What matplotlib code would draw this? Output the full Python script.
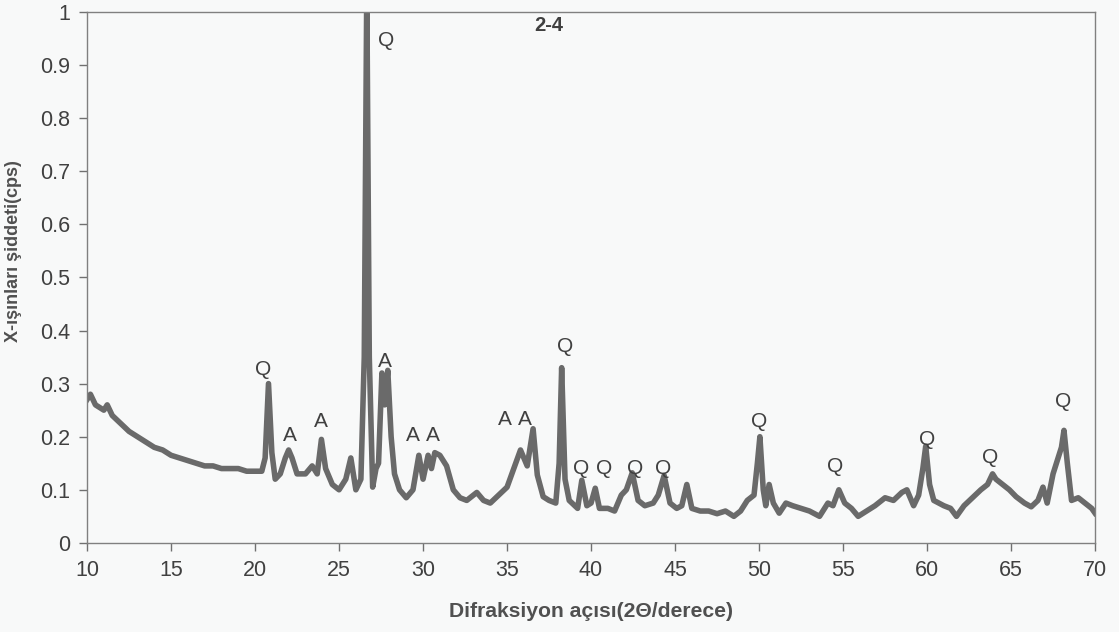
"""XRD pattern of sample 2-4 with quartz (Q) and albite (A) peak labels."""
import matplotlib
matplotlib.use("Agg")
import matplotlib.pyplot as plt
from matplotlib.ticker import FuncFormatter

# 2-theta (deg) and intensity
two_theta = [10.0, 10.2, 10.5, 11.0, 11.2, 11.5, 12.0, 12.5, 13.0, 13.5, 14.0, 14.5, 15.0,
             15.5, 16.0, 16.5, 17.0, 17.5, 18.0, 18.5, 19.0, 19.5, 20.0, 20.4, 20.6,
             20.8, 21.0, 21.2, 21.5, 21.8, 22.0, 22.2, 22.5, 23.0, 23.4, 23.7, 23.95,
             24.2, 24.6, 25.0, 25.4, 25.7, 26.0, 26.3, 26.5, 26.65, 26.8, 27.0, 27.2,
             27.35, 27.55, 27.72, 27.9, 28.1, 28.3, 28.6, 29.0, 29.4, 29.75, 30.0, 30.3,
             30.5, 30.7, 31.0, 31.4, 31.8, 32.2, 32.6, 33.2, 33.6, 34.0, 34.5, 35.0,
             35.4, 35.8, 36.2, 36.55, 36.8, 37.15, 37.5, 37.9, 38.1, 38.25, 38.45, 38.7,
             39.2, 39.45, 39.75, 40.0, 40.25, 40.5, 41.0, 41.4, 41.8, 42.1, 42.45, 42.8,
             43.2, 43.7, 44.0, 44.35, 44.7, 45.1, 45.4, 45.7, 46.0, 46.5, 47.0, 47.5,
             48.0, 48.5, 48.9, 49.3, 49.7, 49.9, 50.05, 50.25, 50.4, 50.6, 50.85, 51.2,
             51.6, 52.0, 52.5, 53.0, 53.6, 54.1, 54.4, 54.75, 55.1, 55.5, 55.9, 56.4,
             56.9, 57.5, 58.0, 58.5, 58.8, 59.2, 59.5, 59.75, 59.92, 60.15, 60.4, 61.0,
             61.4, 61.75, 62.2, 62.7, 63.2, 63.6, 63.9, 64.1, 64.5, 64.9, 65.3, 65.8,
             66.2, 66.6, 66.9, 67.15, 67.5, 67.8, 68.0, 68.15, 68.35, 68.6, 69.0, 69.4,
             69.8, 70.0]
intensity = [0.27, 0.28, 0.26, 0.25, 0.26, 0.24, 0.225, 0.21, 0.20, 0.19, 0.18, 0.175, 0.165,
             0.16, 0.155, 0.15, 0.145, 0.145, 0.14, 0.14, 0.14, 0.135, 0.135, 0.135, 0.16,
             0.30, 0.17, 0.12, 0.13, 0.16, 0.175, 0.16, 0.13, 0.13, 0.145, 0.13, 0.195,
             0.14, 0.11, 0.10, 0.12, 0.16, 0.10, 0.12, 0.35, 1.05, 0.35, 0.105, 0.14,
             0.15, 0.32, 0.26, 0.325, 0.20, 0.13, 0.10, 0.085, 0.10, 0.165, 0.12, 0.165,
             0.14, 0.17, 0.165, 0.145, 0.10, 0.085, 0.08, 0.095, 0.08, 0.075, 0.09, 0.105,
             0.14, 0.175, 0.145, 0.215, 0.128, 0.087, 0.08, 0.075, 0.15, 0.33, 0.12, 0.08,
             0.065, 0.118, 0.07, 0.075, 0.103, 0.065, 0.065, 0.06, 0.09, 0.10, 0.132, 0.08,
             0.07, 0.075, 0.09, 0.127, 0.075, 0.065, 0.07, 0.11, 0.065, 0.06, 0.06, 0.055,
             0.06, 0.05, 0.06, 0.08, 0.09, 0.15, 0.20, 0.10, 0.07, 0.11, 0.075, 0.056,
             0.075, 0.07, 0.065, 0.06, 0.05, 0.075, 0.07, 0.10, 0.075, 0.065, 0.05, 0.06,
             0.07, 0.085, 0.08, 0.095, 0.10, 0.07, 0.09, 0.14, 0.182, 0.11, 0.08, 0.07,
             0.065, 0.05, 0.07, 0.085, 0.10, 0.11, 0.13, 0.12, 0.11, 0.10, 0.087, 0.075,
             0.068, 0.08, 0.105, 0.075, 0.13, 0.16, 0.18, 0.212, 0.15, 0.08, 0.085, 0.075,
             0.065, 0.056]

# peak labels: mineral letter and where it sits
label_text = ["Q", "Q", "A", "A", "A", "A", "A", "A", "A", "Q", "Q", "Q", "Q", "Q",
              "Q", "Q", "Q", "Q", "Q"]
label_x = [27.8, 20.5, 22.1, 23.9, 27.75, 29.4, 30.6, 34.9, 36.05, 38.45, 39.4, 40.8,
           42.6, 44.3, 50.0, 54.5, 60.0, 63.75, 68.1]
label_y = [0.947, 0.326, 0.203, 0.228, 0.342, 0.203, 0.203, 0.232, 0.232, 0.369, 0.141,
           0.141, 0.141, 0.141, 0.228, 0.143, 0.194, 0.160, 0.266]

plt.rcParams["font.family"] = ["Liberation Sans", "DejaVu Sans"]
TXT = "#404040"

fig = plt.figure(figsize=(11.19, 6.32), dpi=100)
fig.patch.set_facecolor("#f8f9f9")
ax = fig.add_axes([0.0778, 0.141, 0.9008, 0.840])
ax.set_facecolor("#f8f9f9")

ax.plot(two_theta, intensity, color="#6a6a6a", lw=4.0, solid_joinstyle="round")

for t, x, y in zip(label_text, label_x, label_y):
    ax.text(x, y, t, ha="center", va="center", fontsize=15, color=TXT)
ax.text(37.5, 0.975, "2-4", ha="center", va="center", fontsize=14.5,
        fontweight="bold", color=TXT)

ax.set_xlim(10, 70)
ax.set_ylim(0, 1)
ax.set_xticks(range(10, 71, 5))
ax.set_yticks([i / 10 for i in range(11)])
ax.yaxis.set_major_formatter(FuncFormatter(lambda v, p: f"{v:g}"))
ax.tick_params(direction="out", length=6, width=1, colors="#707070",
               labelcolor=TXT, labelsize=15.5, pad=6)
for s in ax.spines.values():
    s.set_color("#808080")
    s.set_linewidth(1)

ax.set_xlabel("Difraksiyon açısı(2Θ/derece)", fontsize=15.2, fontweight="bold",
              color="#505050")
ax.xaxis.set_label_coords(0.5, -0.112)
ax.set_ylabel("X-ışınları şiddeti(cps)", fontsize=13, fontweight="bold",
              color="#505050")
ax.yaxis.set_label_coords(-0.065, 0.55)

fig.savefig("out.png", dpi=100, facecolor=fig.get_facecolor())
